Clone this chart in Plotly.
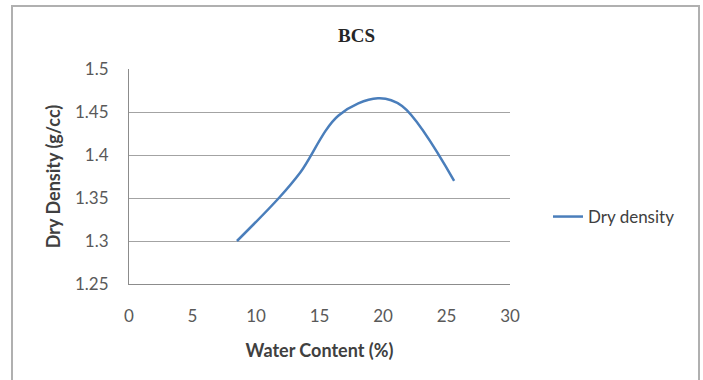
import plotly.graph_objects as go

# Compaction test results for BCS
water_content = [8.5, 11.8, 13.5, 16.5, 19.6, 21.5, 25.6]
dry_density = [1.300, 1.350, 1.380, 1.446, 1.466, 1.457, 1.370]

x_ticks = [0, 5, 10, 15, 20, 25, 30]
y_ticks = [1.25, 1.3, 1.35, 1.4, 1.45, 1.5]
y_tick_text = ["1.25", "1.3", "1.35", "1.4", "1.45", "1.5"]

W, H = 703, 380
L, R, T, B = 129, 193, 69, 96
pw, ph = W - L - R, H - T - B

def px(x):
    return (x - L) / pw

def py(y):
    return (H - B - y) / ph

tick_font = dict(family="Lato, Carlito, sans-serif", size=17, color="#595959")
title_font = dict(family="Lato, Carlito, sans-serif", size=18, color="#404040")

fig = go.Figure()
fig.add_trace(go.Scatter(
    x=water_content, y=dry_density, mode="lines", name="Dry density",
    line=dict(color="#4a7ebb", width=2.5, shape="spline", smoothing=1.0),
))

fig.update_layout(
    width=W, height=H,
    margin=dict(l=L, r=R, t=T, b=B),
    paper_bgcolor="white", plot_bgcolor="white",
    showlegend=True,
    legend=dict(
        x=px(548), y=py(217), xanchor="left", yanchor="middle",
        font=dict(family="Lato, Carlito, sans-serif", size=17, color="#404040"),
        bgcolor="rgba(0,0,0,0)", itemwidth=30,
    ),
    xaxis=dict(
        range=[0, 30], tickvals=x_ticks, ticks="", showgrid=False,
        showline=True, linecolor="#8c8c8c", linewidth=1, zeroline=False,
        tickfont=tick_font, ticklabelstandoff=17,
        title=dict(text="<b>Water Content (%)</b>", font=title_font, standoff=18),
    ),
    yaxis=dict(
        range=[1.25, 1.5], tickvals=y_ticks, ticktext=y_tick_text, ticks="",
        showgrid=True, gridcolor="#a3a3a3", gridwidth=1,
        showline=True, linecolor="#8c8c8c", linewidth=1, zeroline=False,
        tickfont=tick_font, ticklabelstandoff=16,
        title=dict(text="<b>Dry Density (g/cc)</b>", font=title_font, standoff=9),
    ),
    annotations=[dict(
        text="<b>BCS</b>", xref="paper", yref="paper",
        x=px(356), y=py(36), xanchor="center", yanchor="middle", showarrow=False,
        font=dict(family="Liberation Serif, DejaVu Serif, serif", size=19, color="#262626"),
    )],
    shapes=[dict(
        type="rect", xref="paper", yref="paper",
        x0=px(12), x1=px(699), y0=py(395), y1=py(6),
        line=dict(color="#b0b0b0", width=2), fillcolor="rgba(0,0,0,0)", layer="below",
    )],
)

fig.write_html("out.html")
